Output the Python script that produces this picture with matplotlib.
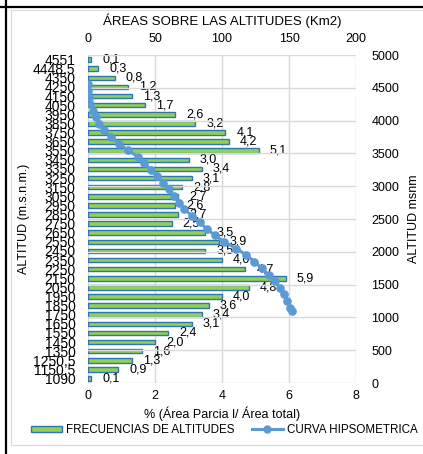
import matplotlib
matplotlib.use("Agg")
import matplotlib.pyplot as plt
from matplotlib.lines import Line2D
from matplotlib.patches import Patch, Rectangle

plt.rcParams["font.family"] = ["Liberation Sans", "DejaVu Sans"]

# categories, top to bottom as in the chart
altitudes = ["4551", "4448,5", "4350", "4250", "4150", "4050", "3950", "3850",
             "3750", "3650", "3550", "3450", "3350", "3250", "3150", "3050",
             "2950", "2850", "2750", "2650", "2550", "2450", "2350", "2250",
             "2150", "2050", "1950", "1850", "1750", "1650", "1550", "1450",
             "1350", "1250,5", "1150,5", "1090"]

# % (area parcial / area total)
pct_area = [0.1, 0.3, 0.8, 1.2, 1.3, 1.7, 2.6, 3.2, 4.1, 4.2, 5.1, 3.0,
            3.4, 3.1, 2.8, 2.7, 2.6, 2.7, 2.5, 3.5, 3.9, 3.5, 4.0, 4.7,
            5.9, 4.8, 4.0, 3.6, 3.4, 3.1, 2.4, 2.0, 1.6, 1.3, 0.9, 0.1]

# hypsometric curve: altitude (msnm) vs area above it (km2)
curve_alt = [4551, 4448.5, 4350, 4250, 4150, 4050, 3950, 3850, 3750, 3650,
             3550, 3450, 3350, 3250, 3150, 3050, 2950, 2850, 2750, 2650,
             2550, 2450, 2350, 2250, 2150, 2050, 1950, 1850, 1750, 1650,
             1550, 1450, 1350, 1250.5, 1150.5, 1090]
curve_area = [0.0, 0.2, 0.6, 1.8, 3.6, 5.6, 8.2, 12.2, 17.0, 23.3,
              29.6, 37.4, 42.0, 47.1, 51.8, 56.1, 60.2, 64.1, 68.2, 72.0,
              77.4, 83.3, 88.6, 94.7, 101.8, 110.8, 118.1, 124.2, 129.7, 134.8,
              139.5, 143.2, 146.2, 148.7, 150.6, 152.0]

BAR_EDGE = "#2E75B6"
BAR_FACE = "#92D050"
CURVE = "#5B9BD5"
GRID = "#D9D9D9"

W, H = 423, 454
fig = plt.figure(figsize=(W / 100, H / 100), dpi=100)

# frame: black cell border + light gray chart-area border
fig.add_artist(Line2D([6 / W, 6 / W], [0, 1], color="black", lw=1.6))
fig.add_artist(Line2D([0, 1], [1 - 7 / H, 1 - 7 / H], color="black", lw=1.6))
fig.add_artist(Rectangle((11 / W, 1 - 445 / H), 1.0, (445 - 10) / H,
                         fill=False, edgecolor=GRID, lw=0.8))

pos = [88 / W, 1 - 383 / H, (356 - 88) / W, (383 - 55) / H]

# --- primary axes: bars ---
ax = fig.add_axes(pos)
ypos = list(range(len(altitudes)))
ax.barh(ypos, pct_area, height=0.5, color=BAR_FACE, edgecolor=BAR_EDGE,
        linewidth=1.0, zorder=2)
ax.set_ylim(len(altitudes) - 0.5, -0.5)
ax.set_xlim(0, 8)
ax.set_xticks([0, 2, 4, 6, 8])
ax.set_yticks(ypos)
ax.set_yticklabels(altitudes, fontsize=10)
ax.tick_params(axis="y", length=0, pad=9)
ax.tick_params(axis="x", length=0, pad=5, labelsize=9)
ax.xaxis.grid(True, color=GRID, lw=1.0, zorder=0)
for s in ax.spines.values():
    s.set_visible(False)
ax.set_xlabel("% (Área Parcia l/ Área total)", fontsize=9, labelpad=3)
ax.set_ylabel("ALTITUD (m.s.n.m.)", fontsize=9, labelpad=2)

for i, v in enumerate(pct_area):
    ax.text(v + 0.33, i, f"{v:.1f}".replace(".", ","), fontsize=9,
            va="center", ha="left", color="black", zorder=5)

# --- secondary axes: hypsometric curve ---
ax2 = fig.add_axes(pos, frameon=False)
ax2.plot(curve_area, curve_alt, color=CURVE, lw=2.2, marker="o",
         markersize=5.2, zorder=4)
ax2.set_xlim(0, 200)
ax2.set_ylim(0, 5000)
ax2.set_xticks([0, 50, 100, 150, 200])
ax2.set_yticks(range(0, 5001, 500))
ax2.xaxis.tick_top()
ax2.xaxis.set_label_position("top")
ax2.yaxis.tick_right()
ax2.yaxis.set_label_position("right")
ax2.tick_params(axis="x", length=0, pad=7, labelsize=9)
ax2.tick_params(axis="y", length=0, pad=11, labelsize=9)
ax2.yaxis.grid(True, color=GRID, lw=1.0, zorder=0)
ax2.set_axisbelow(True)
ax2.set_xlabel("ÁREAS SOBRE LAS ALTITUDES (Km2)", fontsize=9.5, labelpad=6)
ax2.set_ylabel("ALTITUD msnm", fontsize=9, labelpad=6)

# --- legend ---
handles = [
    Patch(facecolor=BAR_FACE, edgecolor=BAR_EDGE, linewidth=1.0),
    Line2D([], [], color=CURVE, lw=2.2, marker="o", markersize=5),
]
fig.legend(handles, ["FRECUENCIAS DE ALTITUDES", "CURVA HIPSOMETRICA"],
           loc="center", bbox_to_anchor=(224 / W, 1 - 430 / H), ncol=2,
           fontsize=8.4, frameon=False, handlelength=2.7, handleheight=0.45,
           handletextpad=0.3, columnspacing=1.5, borderpad=0.1)

fig.savefig("out.png", dpi=100)
